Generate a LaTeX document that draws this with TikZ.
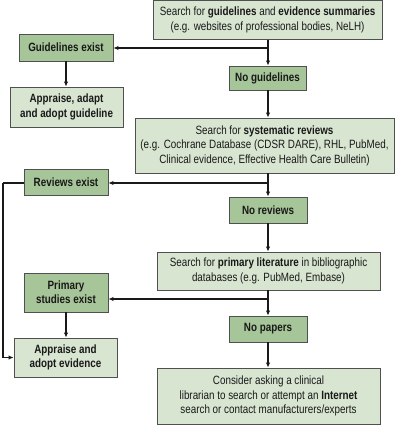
\documentclass[tikz,border=0pt]{standalone}
\usepackage{fontspec}
\setmainfont[FakeStretch=0.82]{Liberation Sans}
\usetikzlibrary{arrows.meta}
\definecolor{lightg}{RGB}{216,229,209}
\definecolor{darkg}{RGB}{166,197,152}
\definecolor{edge}{RGB}{80,80,80}
\definecolor{ink}{RGB}{25,25,25}
\tikzset{
  boxbase/.style={rectangle, draw=edge, line width=0.9pt, inner sep=0pt, align=center, text=ink, font=\fontsize{12}{14.4}\selectfont},
  lightbox/.style={boxbase, fill=lightg},
  darkbox/.style={boxbase, fill=darkg, font=\fontsize{12}{14.4}\selectfont\bfseries},
  conn/.style={line width=1.4pt, draw=ink},
  arr/.style={conn, -{Latex[length=5pt,width=4.5pt]}}
}
\begin{document}
\begin{tikzpicture}[x=1pt,y=-1pt]
\useasboundingbox (0,0) rectangle (400,425);
% nodes
\node[lightbox, minimum width=229pt, minimum height=39pt] (b1) at (267.5,20) {Search for \textbf{guidelines} and \textbf{evidence summaries}\\(e.g. websites of professional bodies, NeLH)};
\node[darkbox, minimum width=94pt, minimum height=27pt] (ge) at (66,47.5) {Guidelines exist};
\node[darkbox, minimum width=77pt, minimum height=24pt] (ng) at (267.5,78) {No guidelines};
\node[lightbox, minimum width=113pt, minimum height=40pt, font=\fontsize{12}{14.4}\selectfont\bfseries] (aag) at (66.5,107) {Appraise, adapt\\and adopt guideline};
\node[lightbox, minimum width=259pt, minimum height=55pt] (sr) at (264.5,145.5) {Search for \textbf{systematic reviews}\\(e.g. Cochrane Database (CDSR DARE), RHL, PubMed,\\Clinical evidence, Effective Health Care Bulletin)};
\node[darkbox, minimum width=84pt, minimum height=26pt] (re) at (66,182) {Reviews exist};
\node[darkbox, minimum width=78pt, minimum height=26pt] (nr) at (268,210) {No reviews};
\node[lightbox, minimum width=223pt, minimum height=38pt] (pl) at (268.5,271) {Search for \textbf{primary literature} in bibliographic\\databases (e.g. PubMed, Embase)};
\node[darkbox, minimum width=84pt, minimum height=39pt] (ps) at (66,292.5) {Primary\\studies exist};
\node[darkbox, minimum width=78pt, minimum height=26pt] (np) at (268,329) {No papers};
\node[lightbox, minimum width=103pt, minimum height=39pt, font=\fontsize{12}{14.4}\selectfont\bfseries] (ae) at (65.5,357.5) {Appraise and\\adopt evidence};
\node[lightbox, minimum width=223pt, minimum height=56pt] (co) at (268.5,396) {Consider asking a clinical\\librarian to search or attempt an \textbf{Internet}\\search or contact manufacturers/experts};
% junctions
\coordinate (j1) at (268,48);
\coordinate (j2) at (268,183);
\coordinate (j3) at (268,299);
\coordinate (lft) at (3,183);
% connectors
\draw[conn] (b1.south -| j1) -- (j1);
\draw[arr] (j1) -- (j1 |- ng.north);
\draw[arr] (j1) -- (j1 -| ge.east);
\draw[arr] (ge.south) -- (ge.south |- aag.north);
\draw[arr] (ng.south -| j2) -- (j2 |- sr.north);
\draw[conn] (sr.south -| j2) -- (j2);
\draw[arr] (j2) -- (j2 |- nr.north);
\draw[arr] (j2) -- (j2 -| re.east);
\draw[conn] (re.west |- lft) -- (lft);
\draw[arr] (lft) -- (lft |- ae.west) -- (ae.west);
\draw[arr] (nr.south -| j3) -- (j3 |- pl.north);
\draw[conn] (pl.south -| j3) -- (j3);
\draw[arr] (j3) -- (j3 |- np.north);
\draw[arr] (j3) -- (j3 -| ps.east);
\draw[arr] (ps.south) -- (ps.south |- ae.north);
\draw[arr] (np.south -| j3) -- (j3 |- co.north);
\end{tikzpicture}
\end{document}
